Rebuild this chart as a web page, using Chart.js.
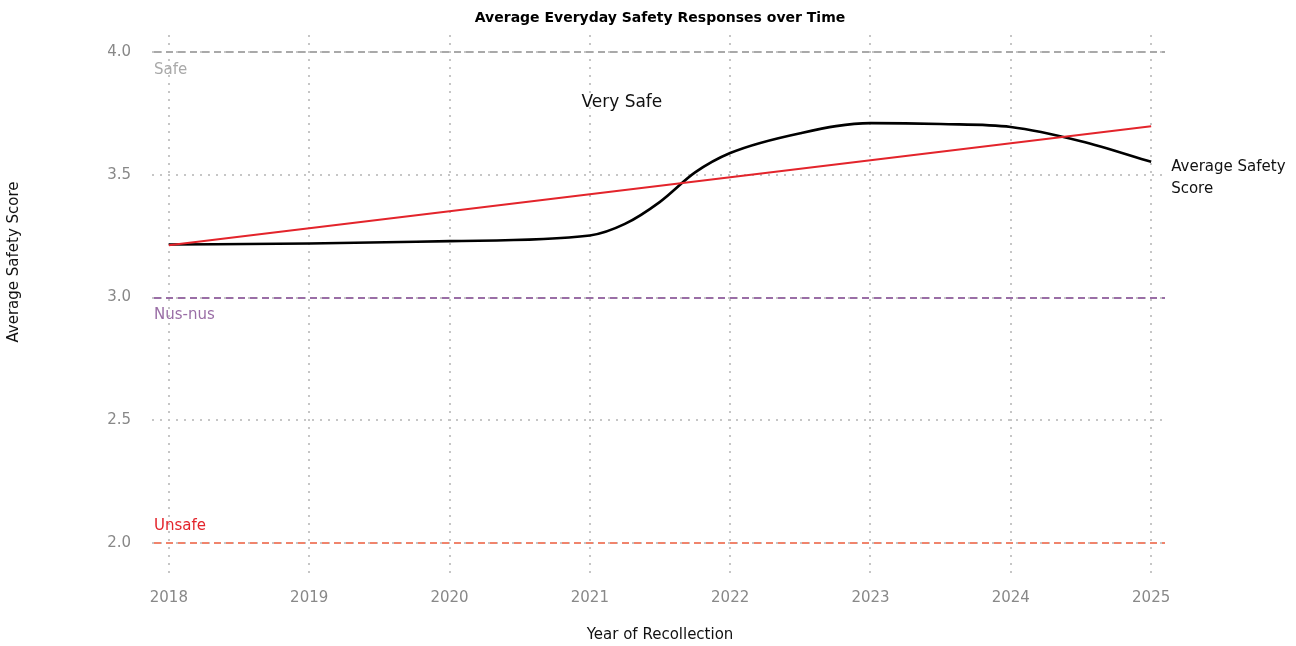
<!DOCTYPE html>
<html>
<head>
<meta charset="utf-8">
<script src="https://cdn.jsdelivr.net/npm/chart.js@4"></script>
<style>
  body { margin: 0; background: #fff; }
  #wrap { width: 1296px; height: 646px; position: relative; }
</style>
</head>
<body>
<div id="wrap"><canvas id="myChart"></canvas></div>
<script>
// data
var years = [2018, 2019, 2020, 2021, 2022, 2023, 2024, 2025]
var yTicks = [2.0, 2.5, 3.0, 3.5, 4.0]

// smoothed average score (black curve)
var smoothYears = [2018, 2019, 2020, 2021, 2021.25, 2021.5, 2021.75, 2022, 2022.5, 2023, 2023.5, 2024, 2024.5, 2025]
var smoothScores = [3.216, 3.220, 3.230, 3.253, 3.30, 3.39, 3.51, 3.589, 3.670, 3.711, 3.707, 3.695, 3.637, 3.553]

// linear trend (red line)
var trendYears = [2018, 2025]
var trendScores = [3.213, 3.698]

// reference lines
var refValues = [4.0, 3.0, 2.0]
var refNames = ['Safe', 'Nus-nus', 'Unsafe']
var refColors = ['#a9a9a9', '#9a6ea6', '#f0846c']
var refTextColors = ['#a9a9a9', '#9a6ea6', '#e3242b']

var fontFamily = "'DejaVu Sans', sans-serif"

function toPoints(xs, ys) {
  return xs.map((x, i) => ({ x: x, y: ys[i] }))
}

// draws dashed reference lines, title and the text annotations
var annotations = {
  id: 'annotations',
  beforeDatasetsDraw(chart) {
    var ctx = chart.ctx
    var area = chart.chartArea
    var yScale = chart.scales.y
    ctx.save()
    ctx.lineWidth = 2.2
    ctx.setLineDash([7, 5])
    refValues.forEach((v, i) => {
      var py = Math.round(yScale.getPixelForValue(v))
      ctx.strokeStyle = refColors[i]
      ctx.beginPath()
      ctx.moveTo(area.left + 2, py)
      ctx.lineTo(area.right - 3, py)
      ctx.stroke()
    })
    ctx.restore()
  },
  afterDatasetsDraw(chart) {
    var ctx = chart.ctx
    var area = chart.chartArea
    var xScale = chart.scales.x
    var yScale = chart.scales.y
    ctx.save()
    ctx.textBaseline = 'middle'

    // title, centred over the plot area
    ctx.textAlign = 'center'
    ctx.fillStyle = '#000'
    ctx.font = 'bold 14px ' + fontFamily
    ctx.fillText('Average Everyday Safety Responses over Time', (area.left + area.right) / 2, 18)

    // y axis title
    ctx.save()
    ctx.translate(14, 262)
    ctx.rotate(-Math.PI / 2)
    ctx.font = '15px ' + fontFamily
    ctx.fillStyle = '#111'
    ctx.fillText('Average Safety Score', 0, 0)
    ctx.restore()

    ctx.textAlign = 'left'
    ctx.font = '15px ' + fontFamily
    refValues.forEach((v, i) => {
      var py = yScale.getPixelForValue(v)
      ctx.fillStyle = refTextColors[i]
      // "Unsafe" sits above its line, the others below
      var off = refNames[i] === 'Unsafe' ? -17 : 18
      ctx.fillText(refNames[i], area.left + 2, py + off)
    })

    ctx.fillStyle = '#111'
    ctx.font = '17px ' + fontFamily
    ctx.fillText('Very Safe', xScale.getPixelForValue(2020.94), yScale.getPixelForValue(3.795))

    var last = smoothScores.length - 1
    var lx = xScale.getPixelForValue(smoothYears[last]) + 20
    var ly = yScale.getPixelForValue(smoothScores[last])
    ctx.font = '15px ' + fontFamily
    ctx.fillText('Average Safety', lx, ly + 5)
    ctx.fillText('Score', lx, ly + 27)
    ctx.restore()
  }
}

var ctx = document.getElementById('myChart').getContext('2d')
var chart = new Chart(ctx, {
  type: 'line',
  data: {
    datasets: [{
      label: 'Trend',
      data: toPoints(trendYears, trendScores),
      borderColor: '#e3242b',
      borderWidth: 2.2,
      pointRadius: 0,
      tension: 0,
    }, {
      label: 'Average Safety Score',
      data: toPoints(smoothYears, smoothScores),
      borderColor: '#000',
      borderWidth: 2.6,
      pointRadius: 0,
      cubicInterpolationMode: 'monotone',
    }]
  },
  options: {
    responsive: true,
    maintainAspectRatio: false,
    animation: false,
    layout: { padding: { left: 0, right: 128, top: 35, bottom: 0 } },
    plugins: {
      legend: { display: false },
      tooltip: { enabled: false },
      title: { display: false },
    },
    scales: {
      x: {
        type: 'linear',
        min: 2017.88,
        max: 2025.12,
        afterBuildTicks: s => { s.ticks = years.map(v => ({ value: v })) },
        afterFit: s => { s.height = 68 },
        border: { display: false, dash: [2, 6] },
        grid: {
          color: '#c6c6c6',
          lineWidth: 2,
          drawTicks: false,
        },
        ticks: {
          color: '#888',
          font: { family: fontFamily, size: 15 },
          padding: 11,
          callback: v => String(v),
        },
        title: {
          display: true,
          text: 'Year of Recollection',
          color: '#111',
          font: { family: fontFamily, size: 15 },
          padding: { top: 10, bottom: 2 },
        },
      },
      y: {
        min: 1.857,
        max: 4.07,
        afterBuildTicks: s => { s.ticks = yTicks.map(v => ({ value: v })) },
        afterFit: s => { s.width = 152 },
        border: { display: false, dash: [2, 6] },
        grid: {
          color: '#c6c6c6',
          lineWidth: 2,
          drawTicks: false,
        },
        ticks: {
          color: '#888',
          font: { family: fontFamily, size: 15 },
          padding: 21,
          callback: v => v.toFixed(1),
        },
        title: { display: false },
      }
    }
  },
  plugins: [annotations]
})
</script>
</body>
</html>
